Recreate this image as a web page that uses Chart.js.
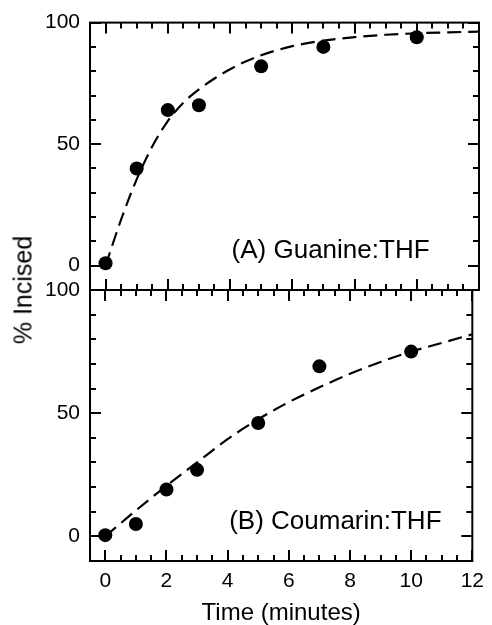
<!DOCTYPE html>
<html lang="en">
<head>
    <meta charset="UTF-8">
    <title>% Incised vs Time</title>
    <script src="https://cdn.jsdelivr.net/npm/chart.js"></script>
    <style>
        body {
            margin: 0;
            background: #fff;
            font-family: 'Liberation Sans', Arial, sans-serif;
        }

        .wrap {
            position: relative;
            width: 492px;
            height: 625px;
            overflow: hidden;
        }

        .wrap canvas {
            position: absolute;
            left: 0;
            top: 0;
        }

        .y-title {
            position: absolute;
            left: 23px;
            top: 290px;
            transform: translate(-50%, -50%) rotate(-90deg);
            font-size: 25px;
            white-space: nowrap;
            color: #000;
        }
    </style>
</head>
<body>
    <div class="wrap">
        <canvas id="panelA" width="492" height="625"></canvas>
        <canvas id="panelB" width="492" height="625"></canvas>
        <div class="y-title">% Incised</div>
    </div>
    <script>
        // measured points (minutes, % incised)
        const timePoints = [0, 1, 2, 3, 5, 7, 10];
        const guanineIncised = [1, 40, 64, 66, 82, 90, 94];
        const coumarinIncised = [0.5, 5, 19, 27, 46, 69, 75];

        // dashed fit curves
        const fitTimeA = [0, 0.5, 1, 1.5, 2, 2.5, 3, 3.5, 4, 4.5, 5, 6, 7, 8, 9, 10, 11, 12];
        const guanineFit = [0, 19, 35.5, 49, 59.5, 67, 72.5, 77, 80.8, 84, 86.6, 90.3, 92.6, 94, 95, 95.6, 96, 96.3];
        const fitTimeB = [0, 1, 2, 3, 4, 5, 6, 7, 8, 9, 10, 11, 12];
        const coumarinFit = [0, 10.5, 20.5, 30, 39.5, 47.5, 54.5, 60.5, 66, 70.8, 75, 78.5, 82];

        const xTickLabels = [0, 2, 4, 6, 8, 10, 12];
        const yTickLabels = [0, 50, 100];
        const panelLabels = ['(A) Guanine:THF', '(B) Coumarin:THF'];

        Chart.defaults.font.family = "'Liberation Sans', Arial, sans-serif";
        Chart.defaults.color = '#000';

        const toXY = (xs, ys) => xs.map((x, i) => ({x: x, y: ys[i]}));

        // frame box, inward ticks on all four sides, panel label
        const frameTicks = {
            id: 'frameTicks',
            afterDraw(chart, args, opts) {
                const {ctx, chartArea: a} = chart;
                const x = chart.scales.x;
                const y = chart.scales.y;
                ctx.save();
                ctx.strokeStyle = '#000';
                ctx.lineWidth = 2;
                ctx.beginPath();
                y.ticks.forEach(t => {
                    const py = Math.round(y.getPixelForValue(t.value));
                    const len = t.value % 50 === 0 ? 11 : 6;
                    ctx.moveTo(a.left, py);
                    ctx.lineTo(a.left + len, py);
                    ctx.moveTo(a.right, py);
                    ctx.lineTo(a.right - len, py);
                });
                x.ticks.forEach(t => {
                    const px = Math.round(x.getPixelForValue(t.value));
                    const len = t.value % 2 === 0 ? 11 : 6;
                    ctx.moveTo(px, a.bottom);
                    ctx.lineTo(px, a.bottom - len);
                    ctx.moveTo(px, a.top);
                    ctx.lineTo(px, a.top + len);
                });
                ctx.stroke();
                ctx.strokeRect(a.left, a.top, a.right - a.left, a.bottom - a.top);

                ctx.fillStyle = '#000';
                ctx.font = "26px 'Liberation Sans', Arial, sans-serif";
                ctx.textAlign = 'left';
                ctx.textBaseline = 'alphabetic';
                ctx.fillText(opts.text, x.getPixelForValue(4.05), y.getPixelForValue(3));
                ctx.restore();
            }
        };

        function makePanel(id, points, fitX, fitY, label, isBottom) {
            const ctx = document.getElementById(id).getContext('2d');
            return new Chart(ctx, {
                type: 'scatter',
                data: {
                    datasets: [{
                        data: toXY(fitX, fitY),
                        showLine: true,
                        borderColor: '#000',
                        borderWidth: 2.2,
                        borderDash: [14, 7],
                        pointRadius: 0,
                        tension: 0.4,
                        cubicInterpolationMode: 'monotone'
                    }, {
                        data: toXY(timePoints, points),
                        showLine: false,
                        pointRadius: 7,
                        pointBackgroundColor: '#000',
                        pointBorderWidth: 0
                    }]
                },
                options: {
                    responsive: false,
                    animation: false,
                    devicePixelRatio: 1,
                    layout: {
                        padding: isBottom
                            ? {top: 290, right: 13, bottom: 0, left: 0}
                            : {top: 19, right: 13, bottom: 335, left: 0}
                    },
                    plugins: {
                        legend: {display: false},
                        tooltip: {enabled: false},
                        frameTicks: {text: label}
                    },
                    scales: {
                        x: {
                            type: 'linear',
                            min: -0.5,
                            max: 12,
                            grid: {display: false, drawTicks: false},
                            border: {display: false},
                            ticks: {
                                display: isBottom,
                                stepSize: 0.5,
                                autoSkip: false,
                                maxRotation: 0,
                                minRotation: 0,
                                padding: 8,
                                font: {size: 21},
                                callback: v => xTickLabels.includes(v) ? v : ''
                            },
                            title: {
                                display: isBottom,
                                text: 'Time (minutes)',
                                font: {size: 24, lineHeight: 1},
                                padding: 0
                            },
                            afterFit: s => { s.height = isBottom ? 64 : 0; }
                        },
                        y: {
                            min: -10,
                            max: 100,
                            grid: {display: false, drawTicks: false},
                            border: {display: false},
                            ticks: {
                                stepSize: 10,
                                autoSkip: false,
                                padding: 10,
                                font: {size: 21},
                                callback: v => yTickLabels.includes(v) ? v : ''
                            },
                            afterFit: s => { s.width = 90; }
                        }
                    }
                },
                plugins: [frameTicks]
            });
        }

        makePanel('panelA', guanineIncised, fitTimeA, guanineFit, panelLabels[0], false);
        makePanel('panelB', coumarinIncised, fitTimeB, coumarinFit, panelLabels[1], true);
    </script>
</body>
</html>
